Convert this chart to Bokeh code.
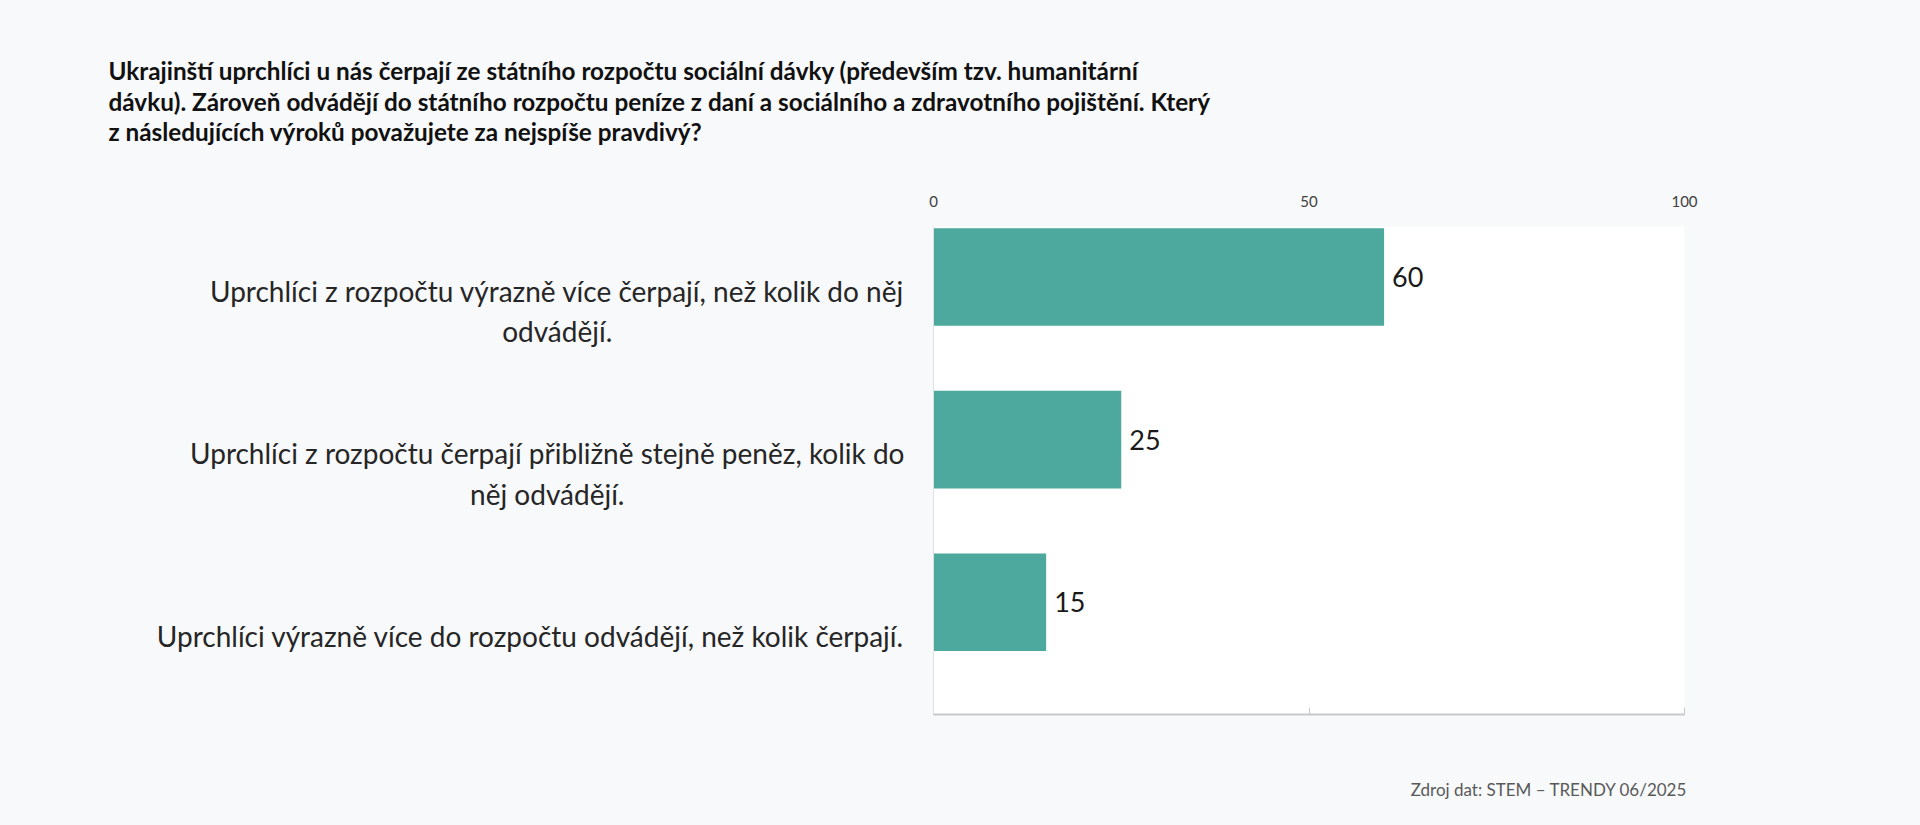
from bokeh.plotting import figure
from bokeh.models import FactorRange, Range1d, LinearAxis, FixedTicker, ColumnDataSource
from bokeh.layouts import column, row
from bokeh.transform import dodge
from bokeh.core.properties import value
from bokeh.embed import file_html
from bokeh.resources import INLINE

categories = [
    "Uprchlíci z rozpočtu výrazně více čerpají, než kolik do něj\nodvádějí.",
    "Uprchlíci z rozpočtu čerpají přibližně stejně peněz, kolik do\nněj odvádějí.",
    "Uprchlíci výrazně více do rozpočtu odvádějí, než kolik čerpají.",
]
values = [60, 25, 15]
x_ticks = [0, 50, 100]
title_lines = [
    "Ukrajinští uprchlíci u nás čerpají ze státního rozpočtu sociální dávky (především tzv. humanitární",
    "dávku). Zároveň odvádějí do státního rozpočtu peníze z daní a sociálního a zdravotního pojištění.  Který",
    "z následujících výroků považujete za nejspíše pravdivý?",
]
source_note = "Zdroj dat: STEM – TRENDY 06/2025"

FONT = "Lato"
BG = "#f8f9fb"
BAR = "#4da89d"

W, H = 1904, 809
TOP_H = 160
FOOT_H = 49
BODY_H = H - TOP_H - FOOT_H
LEFT_W = 913
RIGHT_W = W - LEFT_W
BODY_TOP = 66
BODY_BOTTOM = 46


def strip(height):
    f = figure(width=W, height=height, output_backend="svg", toolbar_location=None,
               x_range=Range1d(0, W), y_range=Range1d(height, 0),
               x_axis_location=None, y_axis_location=None, min_border=0)
    f.background_fill_color = BG
    f.border_fill_color = BG
    f.outline_line_color = None
    f.grid.visible = False
    return f


# ---- title strip ----
t = strip(TOP_H)
tsrc = ColumnDataSource(dict(x=[108] * len(title_lines),
                             y=[70 + 30.5 * i for i in range(len(title_lines))],
                             text=title_lines))
t.text(x="x", y="y", text="text", source=tsrc, text_font=value(FONT), text_font_style="bold",
       text_font_size="24.3px", text_color="#111111", text_baseline="middle", text_align="left")

# ---- bar chart ----
yr = FactorRange(factors=list(reversed(categories)))
p = figure(width=RIGHT_W, height=BODY_H, output_backend="svg", toolbar_location=None,
           y_range=yr, x_range=Range1d(0, 100), x_axis_location="above",
           min_border_left=20, min_border_right=220,
           min_border_top=BODY_TOP, min_border_bottom=BODY_BOTTOM)
p.background_fill_color = "white"
p.border_fill_color = BG
p.outline_line_color = None
p.grid.visible = False

src = ColumnDataSource(dict(cat=categories, val=values, lab=[str(v) for v in values]))
p.hbar(y=dodge("cat", 0.19, range=yr), left=0, right="val", height=0.6,
       source=src, fill_color=BAR, line_color=None)
p.text(x="val", y=dodge("cat", 0.19, range=yr), text="lab", source=src,
       x_offset=8, text_baseline="middle", text_align="left",
       text_font=value(FONT), text_font_size="27px", text_color="#1a1a1a")

xa = p.xaxis[0]
xa.ticker = FixedTicker(ticks=x_ticks)
xa.axis_line_color = None
xa.major_tick_line_color = None
xa.minor_tick_line_color = None
xa.major_label_standoff = 14
xa.major_label_text_font = FONT
xa.major_label_text_font_size = "15px"
xa.major_label_text_color = "#404040"

bx = LinearAxis(ticker=FixedTicker(ticks=x_ticks))
bx.axis_line_color = "#c8c8c8"
bx.axis_line_width = 2
bx.major_tick_line_color = "#c8c8c8"
bx.major_tick_in = 7
bx.major_tick_out = 0
bx.minor_tick_line_color = None
bx.major_label_overrides = {tk: "" for tk in x_ticks}
bx.major_label_text_color = None
p.add_layout(bx, "below")

ya = p.yaxis[0]
ya.axis_line_color = "#e0e0e0"
ya.major_tick_line_color = None
ya.minor_tick_line_color = None
ya.major_tick_out = 0
ya.major_label_overrides = {c: "" for c in categories}
ya.major_label_text_color = None

# ---- category labels ----
lf = figure(width=LEFT_W, height=BODY_H, output_backend="svg", toolbar_location=None,
            y_range=yr, x_range=Range1d(0, 1), x_axis_location=None, y_axis_location=None,
            min_border_left=0, min_border_right=0,
            min_border_top=BODY_TOP, min_border_bottom=BODY_BOTTOM)
lf.background_fill_color = BG
lf.border_fill_color = BG
lf.outline_line_color = None
lf.grid.visible = False
lf.text(x=1, y="cat", text="cat", source=src, x_offset=-9, y_offset=3,
        anchor=value("center_right"), text_align="center", text_baseline="middle",
        text_line_height=1.18, text_font=value(FONT), text_font_size="28px", text_color="#262626")

# ---- source strip ----
fo = strip(FOOT_H)
fo.text(x=[1687], y=[29], text=[source_note], text_font=value(FONT), text_font_size="17px",
        text_color="#595959", text_baseline="middle", text_align="right")

layout = column(t, row(lf, p), fo)
html = file_html(layout, INLINE)
html = html.replace("<body>", '<body style="background:%s">' % BG)
open("out.html", "w").write(html)
